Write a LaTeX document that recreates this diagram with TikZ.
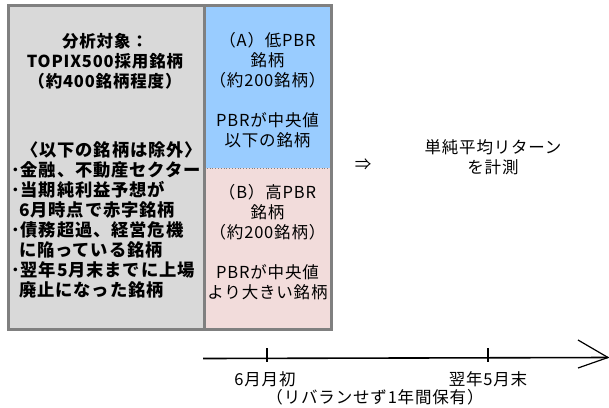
\documentclass[tikz,border=0pt]{standalone}
\usepackage{fontspec}
\setmainfont{Noto Sans CJK JP}
\newfontfamily\jfont[LetterSpace=5]{Noto Sans CJK JP}
\definecolor{boxgray}{HTML}{D9D9D9}
\definecolor{boxblue}{HTML}{99CCFF}
\definecolor{boxpink}{HTML}{F2DCDB}
\definecolor{bordergray}{HTML}{808080}
\tikzset{
  panel/.style={draw=none, inner sep=0pt, outer sep=0pt},
  frame/.style={draw=bordergray, line width=3pt},
  jtext/.style={inner sep=0pt, font=\jfont\fontsize{16.5}{20}\selectfont},
  jbold/.style={inner sep=0pt, font=\jfont\fontsize{16.5}{20}\selectfont\bfseries},
  jboldl/.style={inner sep=0pt, font=\jfont\fontsize{17.3}{20}\selectfont\bfseries},
  axis/.style={line width=1.6pt, draw=black},
}
\begin{document}
\begin{tikzpicture}[x=1pt,y=-1pt]
\useasboundingbox (0,0) rectangle (609,407);
% panels
\node[panel, fill=boxgray, minimum width=195.5pt, minimum height=324pt] (left) at (106.25,167.5) {};
\node[panel, fill=boxblue, minimum width=127pt, minimum height=162.5pt] (blue) at (267.5,86.75) {};
\node[panel, fill=boxpink, minimum width=127pt, minimum height=161.5pt] (pink) at (267.5,248.75) {};
\draw[bordergray, dotted, line width=0.8pt] (blue.south west) -- (blue.south east);
\draw[frame] (left.north west) rectangle (pink.south east);
\draw[frame] (left.north east) -- (left.south east);
% left texts
\node[jbold, align=center] (title) at (105,61) {分析対象：\\TOPIX500採用銘柄\\（約400銘柄程度）};
\node[jboldl, align=left, anchor=west] (excl) at (11,220) {%
\hspace*{10pt}〈以下の銘柄は除外〉\\
･金融、不動産セクター\\
･当期純利益予想が\\
\hspace*{8pt}6月時点で赤字銘柄\\
･債務超過、経営危機\\
\hspace*{8pt}に陥っている銘柄\\
･翌年5月末までに上場\\
\hspace*{8pt}廃止になった銘柄};
% right panel texts
\node[jtext, align=center] (atext) at (267.5,90) {（A）低PBR\\銘柄\\（約200銘柄）\\[20pt]PBRが中央値\\以下の銘柄};
\node[jtext, align=center] (btext) at (267.5,242) {（B）高PBR\\銘柄\\（約200銘柄）\\[20pt]PBRが中央値\\より大きい銘柄};
% result
\node[jtext] (imp) at (363,165) {⇒};
\node[jtext, align=center] (ret) at (493,157) {単純平均リターン\\を計測};
% timeline
\coordinate (tl0) at (203,358.5);
\coordinate (tlend) at (608,357.5);
\coordinate (tipU) at (578,340);
\coordinate (tipL) at (578,368);
\coordinate (t1) at (267,358.5);
\coordinate (t2) at (488,358.5);
\draw[axis] (tl0) -- (tlend);
\draw[axis, line width=1.2pt] (tipU) -- (tlend) -- (tipL);
\draw[axis] (t1) ++(0,-10.5) -- ++(0,13.5);
\draw[axis] (t2) ++(0,-10.5) -- ++(0,13.5);
\node[jtext] (lab1) at (265,379) {6月月初};
\node[jtext] (lab2) at (488,379) {翌年5月末};
\node[jtext] (hold) at (375,397) {（リバランせず1年間保有）};
\end{tikzpicture}
\end{document}
